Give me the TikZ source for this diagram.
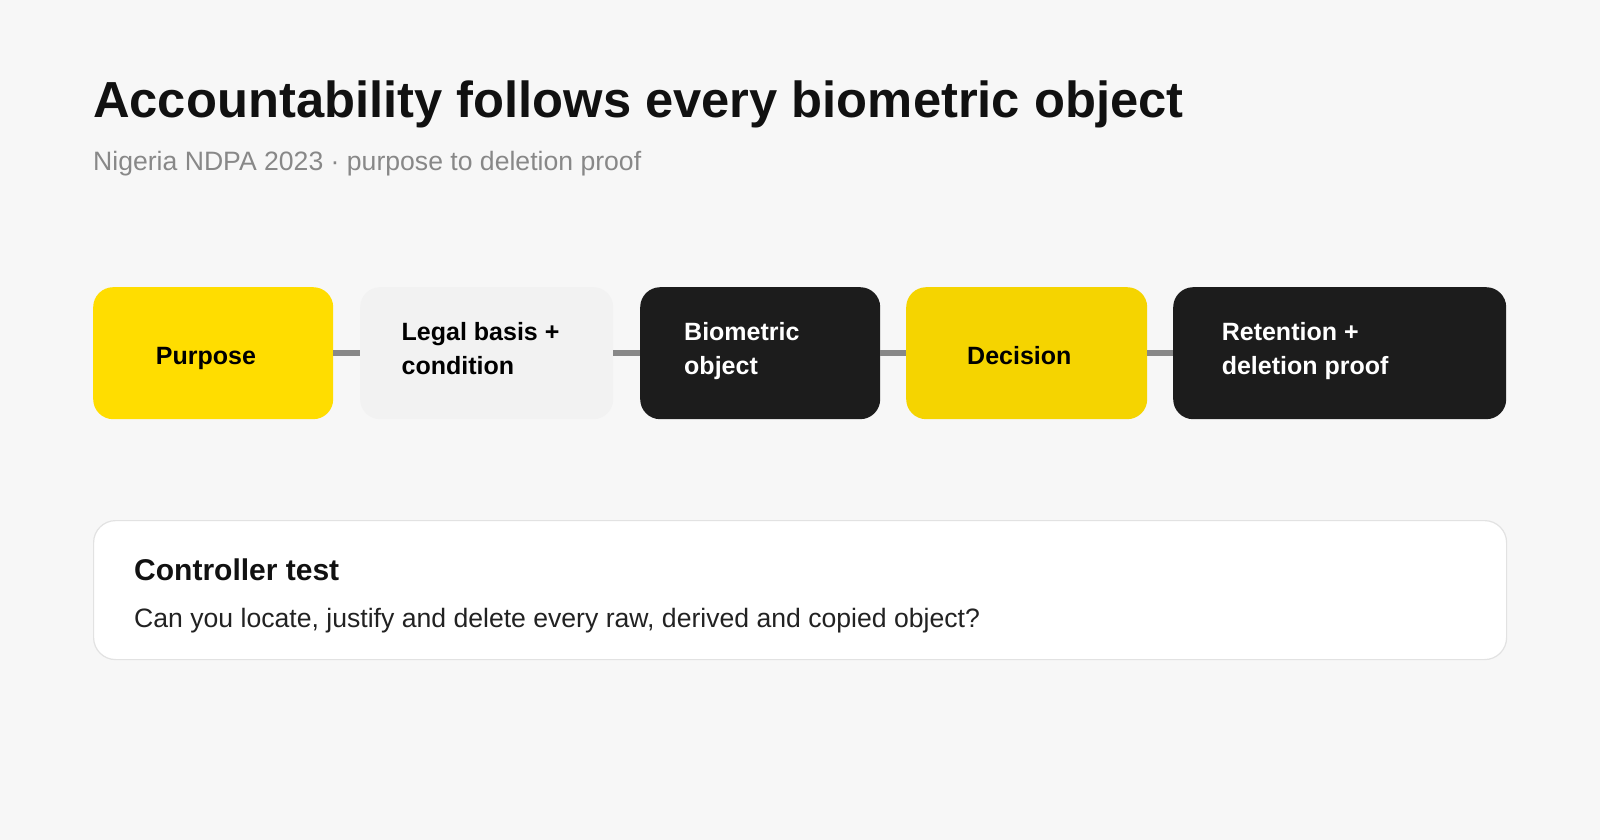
\documentclass[tikz,border=0pt]{standalone}
\usepackage{fontspec}
\setmainfont{Liberation Sans}
\definecolor{bgc}{HTML}{F7F7F7}
\definecolor{yelA}{HTML}{FFDD00}
\definecolor{yelB}{HTML}{F5D400}
\definecolor{paleg}{HTML}{F2F2F2}
\definecolor{inkbox}{HTML}{1C1C1C}
\definecolor{linkc}{HTML}{888888}
\definecolor{cardline}{HTML}{E2E2E2}
\definecolor{subc}{HTML}{888888}
\definecolor{titlec}{HTML}{111111}
\definecolor{bodyc}{HTML}{222222}
\begin{document}
\begin{tikzpicture}[x=1pt,y=-1pt,
  stagebox/.style={rounded corners=20pt, draw=none, inner sep=0pt, minimum height=132pt},
  stagetext/.style={anchor=base west, inner sep=0pt, align=left, font=\fontsize{25}{34}\selectfont\bfseries},
  link/.style={draw=linkc, line width=6pt},
  txt/.style={anchor=base west, inner sep=0pt}]
\fill[bgc] (0,0) rectangle (1600,840);
\useasboundingbox (0,0) rectangle (1600,840);
% title
\node[txt, text=titlec, font=\fontsize{50.7}{60}\selectfont\bfseries] (title) at (93,117.3) {Accountability follows every biometric object};
\node[txt, text=subc, font=\fontsize{26.6}{32}\selectfont] (sub) at (93,170) {Nigeria NDPA 2023 · purpose to deletion proof};
% boxes
\node[stagebox, fill=yelA, minimum width=240pt, anchor=north west] (b1) at (93,287) {};
\node[stagebox, fill=paleg, minimum width=253pt, anchor=north west] (b2) at (360,287) {};
\node[stagebox, fill=inkbox, minimum width=240pt, anchor=north west] (b3) at (640,287) {};
\node[stagebox, fill=yelB, minimum width=241pt, anchor=north west] (b4) at (906,287) {};
\node[stagebox, fill=inkbox, minimum width=333pt, anchor=north west] (b5) at (1173,287) {};
% connectors
\draw[link] (b1.east) -- (b2.west);
\draw[link] (b2.east) -- (b3.west);
\draw[link] (b3.east) -- (b4.west);
\draw[link] (b4.east) -- (b5.west);
% texts (base anchor = baseline of last line)
\node[stagetext, text=black] (t1) at (155.7,364) {Purpose};
\node[stagetext, text=black] (t2) at (401.5,374) {Legal basis +\\condition};
\node[stagetext, text=white] (t3) at (684,374) {Biometric\\object};
\node[stagetext, text=black] (t4) at (967,364) {Decision};
\node[stagetext, text=white] (t5) at (1221.6,374) {Retention +\\deletion proof};
% card
\node[draw=cardline, line width=1.2pt, fill=white, rounded corners=22pt, minimum width=1413pt, minimum height=139pt, anchor=north west, inner sep=0pt] (card) at (93,520) {};
\node[txt, text=titlec, font=\fontsize{30}{36}\selectfont\bfseries] (ctitle) at (134,580.7) {Controller test};
\node[txt, text=bodyc, font=\fontsize{26.6}{32}\selectfont] (cbody) at (134,627) {Can you locate, justify and delete every raw, derived and copied object?};
\end{tikzpicture}
\end{document}
